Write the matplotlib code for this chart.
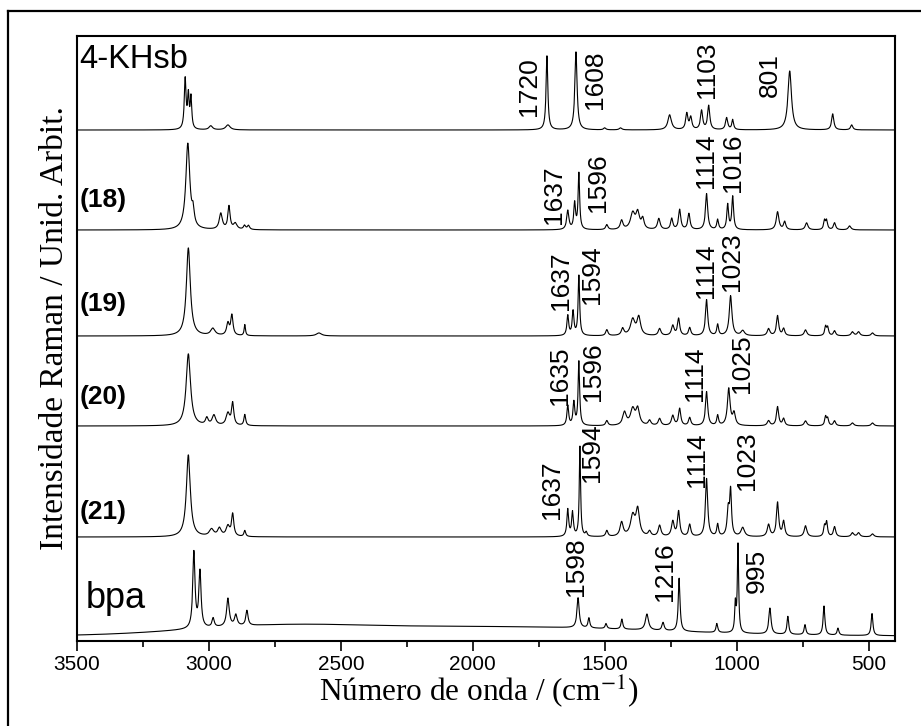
import numpy as np
import matplotlib
matplotlib.use("Agg")
import matplotlib.pyplot as plt
from matplotlib.lines import Line2D

plt.rcParams["mathtext.fontset"] = "stix"

# peak tables: (wavenumber, height, half width)
khsb_peaks = [(3090, 50, 4), (3078, 32, 3.5), (3068, 31, 3.5), (2993, 4, 8), (2928, 5, 10),
              (1719, 74, 4), (1609, 78, 5), (1500, 2, 5), (1440, 2, 6), (1254, 15, 8),
              (1189, 16, 5), (1174, 12, 5), (1133, 19, 5), (1106, 24, 5), (1038, 12, 5),
              (1015, 10, 4), (799, 59, 8), (636, 16, 5), (564, 5, 5)]
s18_peaks = [(3080, 86, 9), (3060, 14, 5), (2955, 16, 7), (2924, 23, 5), (2900, 6, 8),
             (2865, 4, 5), (2850, 4, 5), (1640, 19, 5), (1614, 26, 4), (1598, 56, 3.5),
             (1492, 5, 5), (1436, 9, 6), (1394, 16, 10), (1375, 16, 8), (1356, 10, 6),
             (1295, 11, 6), (1246, 11, 5), (1216, 20, 5), (1181, 16, 5), (1114, 36, 5),
             (1072, 10, 4), (1034, 25, 4), (1015, 33, 4), (845, 18, 6), (818, 8, 5),
             (735, 7, 6), (667, 9, 4), (659, 9, 4), (629, 7, 5), (572, 4, 6)]
s19_peaks = [(3078, 88, 9), (2985, 7, 10), (2928, 12, 6), (2913, 20, 5), (2864, 11, 3),
             (2583, 3, 12), (1640, 20, 4), (1620, 24, 4), (1598, 60, 3.5), (1492, 6, 5),
             (1432, 7, 6), (1394, 16, 10), (1371, 18, 8), (1292, 7, 6), (1242, 10, 6),
             (1220, 17, 5), (1178, 8, 5), (1114, 36, 5), (1072, 11, 4), (1023, 40, 6),
             (977, 5, 8), (879, 7, 6), (845, 20, 5), (822, 7, 5), (739, 6, 6),
             (663, 9, 4), (655, 8, 4), (629, 5, 5), (561, 4, 6), (538, 4, 6), (485, 3, 6)]
s20_peaks = [(3078, 72, 10), (3008, 7, 6), (2981, 10, 8), (2928, 12, 8), (2910, 22, 5),
             (2864, 11, 4), (1640, 20, 4), (1617, 23, 4), (1598, 64, 3.5), (1492, 5, 5),
             (1425, 13, 8), (1394, 16, 10), (1375, 16, 8), (1330, 5, 6), (1292, 7, 6),
             (1242, 10, 6), (1216, 17, 5), (1178, 8, 5), (1114, 34, 5), (1072, 10, 4),
             (1030, 37, 6), (1010, 12, 6), (879, 5, 6), (845, 19, 5), (822, 7, 5),
             (739, 5, 6), (663, 9, 4), (655, 7, 4), (629, 5, 5), (561, 3, 6), (485, 3, 6)]
s21_peaks = [(3078, 82, 9), (2990, 7, 10), (2960, 8, 8), (2928, 10, 8), (2910, 22, 5),
             (2864, 6, 4), (1640, 27, 4), (1622, 24, 4), (1594, 90, 3), (1570, 4, 4),
             (1492, 6, 5), (1436, 14, 7), (1394, 20, 10), (1375, 26, 8), (1330, 5, 6),
             (1292, 11, 6), (1242, 15, 6), (1220, 25, 5), (1178, 12, 5), (1114, 58, 5),
             (1072, 12, 4), (1032, 26, 5), (1023, 44, 4), (977, 9, 8), (879, 12, 6),
             (845, 34, 5), (822, 15, 5), (739, 11, 6), (667, 10, 4), (659, 14, 4),
             (629, 10, 5), (561, 4, 6), (538, 4, 6), (485, 3, 6)]
bpa_peaks = [(3057, 76, 5), (3034, 56, 5), (2984, 9, 5), (2928, 28, 6), (2898, 11, 6),
             (2856, 15, 5), (1601, 30, 5), (1560, 10, 4), (1495, 5, 4), (1435, 10, 4),
             (1340, 16, 7), (1279, 8, 5), (1218, 53, 4), (1075, 9, 4), (1005, 28, 3),
             (995, 88, 3), (874, 26, 5), (806, 18, 4), (741, 10, 4), (669, 29, 4),
             (616, 7, 4), (487, 22, 4)]
# broad background humps (wavenumber, height, sigma)
bpa_background = [(2750, 9, 350), (1850, 9, 550)]

names = ["4-KHsb", "(18)", "(19)", "(20)", "(21)", "bpa"]
offsets = [511, 411, 305, 215, 104, 5]
peak_sets = [khsb_peaks, s18_peaks, s19_peaks, s20_peaks, s21_peaks, bpa_peaks]
backgrounds = [[], [], [], [], [], bpa_background]

# label positions (wavenumber, y, size, weight)
name_pos = [(3492, 581, 23.5, "normal"), (3490, 441, 19, "bold"), (3490, 337, 19, "bold"),
            (3490, 244, 19, "bold"), (3490, 129, 19, "bold"), (3468, 43, 26, "normal")]
peak_labels = [("1720", 1787, 554), ("1608", 1537, 561), ("1103", 1112, 571), ("801", 874, 566),
               ("1637", 1692, 446), ("1596", 1526, 458), ("1114", 1116, 480), ("1016", 1014, 478),
               ("1637", 1666, 360), ("1594", 1548, 366), ("1114", 1116, 370), ("1023", 1018, 379),
               ("1635", 1670, 265), ("1596", 1544, 269), ("1114", 1158, 267), ("1025", 980, 277),
               ("1637", 1700, 151), ("1594", 1548, 188), ("1114", 1150, 181), ("1023", 961, 180),
               ("1598", 1609, 74), ("1216", 1272, 69), ("995", 923, 70)]

x = np.linspace(400, 3500, 6201)


def spectrum(peaks, background, offset):
    y = np.full_like(x, float(offset))
    for c, h, w in peaks:
        y += h / (1 + ((x - c) / w) ** 2)
    for c, h, s in background:
        y += h * np.exp(-0.5 * ((x - c) / s) ** 2)
    return y


sans = "Liberation Sans"
serif = "Liberation Serif"

fig = plt.figure(figsize=(9.21, 7.26), dpi=100)
ax = fig.add_axes([77 / 921, 1 - 641 / 726, 818 / 921, 605 / 726])

for peaks, bg, off in zip(peak_sets, backgrounds, offsets):
    ax.plot(x, spectrum(peaks, bg, off), color="black", lw=0.8)

for name, (px, py, fs, fw) in zip(names, name_pos):
    ax.text(px, py, name, fontsize=fs, fontweight=fw, family=sans, ha="left", va="center")

for txt, px, py in peak_labels:
    ax.text(px, py, txt, fontsize=19, family=sans, rotation=90, ha="center", va="center")

ax.set_xlim(3500, 400)
ax.set_ylim(0, 605)
ax.set_yticks([])
ax.set_xticks([3500, 3000, 2500, 2000, 1500, 1000, 500])
ax.set_xticks([3250, 2750, 2250, 1750, 1250, 750], minor=True)
ax.tick_params(axis="x", which="major", direction="out", length=7, width=1.2, pad=3,
               labelsize=15)
ax.tick_params(axis="x", which="minor", direction="out", length=4, width=1.2)
for lab in ax.get_xticklabels():
    lab.set_family(sans)
for sp in ax.spines.values():
    sp.set_linewidth(1.5)

fig.text(479 / 921, 1 - 701 / 726, "Número de onda / (cm$^{-1}$)", family=serif,
         fontsize=22.5, ha="center", va="baseline")
fig.text(55 / 921, 1 - 328 / 726, "Intensidade Raman / Unid. Arbit.", family=serif,
         fontsize=24, rotation=90, ha="center", va="center")

# outer frame
fig.add_artist(Line2D([8 / 921, 8 / 921], [0, 1 - 11 / 726], transform=fig.transFigure,
                      color="black", lw=1.6))
fig.add_artist(Line2D([8 / 921, 1], [1 - 11 / 726, 1 - 11 / 726], transform=fig.transFigure,
                      color="black", lw=1.6))

fig.savefig("out.png", dpi=100)
